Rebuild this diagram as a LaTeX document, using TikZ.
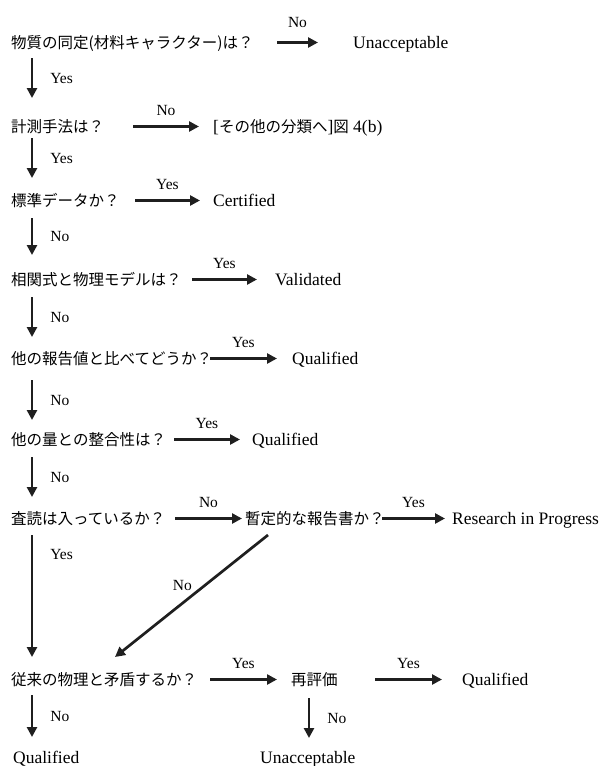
\documentclass[tikz,border=0pt]{standalone}
\usepackage{fontspec}
\setmainfont{Liberation Serif}
\newfontfamily\jp{Noto Sans CJK JP}
\usetikzlibrary{arrows.meta}
\tikzset{
  lbl/.style={inner sep=0pt, anchor=base west, text height=12pt, text depth=3pt, font=\fontsize{17.5pt}{21pt}\selectfont},
  jq/.style={lbl, font=\jp\fontsize{15.5pt}{18pt}\selectfont},
  yn/.style={inner sep=0pt, font=\fontsize{15.5pt}{19pt}\selectfont},
  arr/.style={line width=2.7pt, draw=black!88, -{Triangle[length=10pt,width=10pt]}},
  hl/.style={yn, midway, above=10pt},
  vl/.style={yn, midway, right=17pt},
}
\begin{document}
\begin{tikzpicture}[x=1pt,y=-1pt]
\useasboundingbox (0,0) rectangle (605,766);
% nodes
\node[jq] (q1) at (11,48) {物質の同定(材料キャラクター)は？};
\node[lbl] (u1) at (353,48) {Unacceptable};
\node[jq] (q2) at (11,132) {計測手法は？};
\node[lbl] (o2) at (213,132) {[{\jp\fontsize{15.5pt}{18pt}\selectfont その他の分類へ}]{\jp\fontsize{15.5pt}{18pt}\selectfont 図} 4(b)};
\node[jq] (q3) at (11,206) {標準データか？};
\node[lbl] (c3) at (213,206) {Certified};
\node[jq] (q4) at (11,285) {相関式と物理モデルは？};
\node[lbl] (v4) at (275,285) {Validated};
\node[jq] (q5) at (11,364) {他の報告値と比べてどうか？};
\node[lbl] (r5) at (292,364) {Qualified};
\node[jq] (q6) at (11,445) {他の量との整合性は？};
\node[lbl] (r6) at (252,445) {Qualified};
\node[jq] (q7) at (11,524) {査読は入っているか？};
\node[jq] (p7) at (245,524) {暫定的な報告書か？};
\node[lbl] (rp) at (452,524) {Research in Progress};
\node[jq] (q8) at (11,685) {従来の物理と矛盾するか？};
\node[jq] (re) at (291,685) {再評価};
\node[lbl] (r8) at (462,685) {Qualified};
\node[lbl] (r9) at (13,763) {Qualified};
\node[lbl] (u9) at (260,763) {Unacceptable};
% horizontal arrows
\draw[arr] ([xshift=266pt,yshift=5.5pt]q1.base west) -- node[yn, midway, above=14pt] {No} ([xshift=-35pt,yshift=5.5pt]u1.base west);
\draw[arr] ([xshift=122pt,yshift=5.5pt]q2.base west) -- node[hl] {No} ([xshift=-14pt,yshift=5.5pt]o2.base west);
\draw[arr] ([xshift=124pt,yshift=5.5pt]q3.base west) -- node[hl] {Yes} ([xshift=-13pt,yshift=5.5pt]c3.base west);
\draw[arr] ([xshift=181pt,yshift=5.5pt]q4.base west) -- node[hl] {Yes} ([xshift=-18pt,yshift=5.5pt]v4.base west);
\draw[arr] ([xshift=199pt,yshift=5.5pt]q5.base west) -- node[hl] {Yes} ([xshift=-15pt,yshift=5.5pt]r5.base west);
\draw[arr] ([xshift=163pt,yshift=5.5pt]q6.base west) -- node[hl] {Yes} ([xshift=-12pt,yshift=5.5pt]r6.base west);
\draw[arr] ([xshift=164pt,yshift=5.5pt]q7.base west) -- node[hl] {No} ([xshift=-3pt,yshift=5.5pt]p7.base west);
\draw[arr] ([xshift=137pt,yshift=5.5pt]p7.base west) -- node[hl] {Yes} ([xshift=-7pt,yshift=5.5pt]rp.base west);
\draw[arr] ([xshift=199pt,yshift=5.5pt]q8.base west) -- node[hl] {Yes} ([xshift=-14pt,yshift=5.5pt]re.base west);
\draw[arr] ([xshift=84pt,yshift=5.5pt]re.base west) -- node[hl] {Yes} ([xshift=-20pt,yshift=5.5pt]r8.base west);
% vertical arrows
\draw[arr] ([xshift=21pt,yshift=-10pt]q1.base west) -- node[vl] {Yes} ([xshift=21pt,yshift=34pt]q2.base west);
\draw[arr] ([xshift=21pt,yshift=-6pt]q2.base west) -- node[vl] {Yes} ([xshift=21pt,yshift=28pt]q3.base west);
\draw[arr] ([xshift=21pt,yshift=-12pt]q3.base west) -- node[vl] {No} ([xshift=21pt,yshift=30pt]q4.base west);
\draw[arr] ([xshift=21pt,yshift=-12pt]q4.base west) -- node[vl] {No} ([xshift=21pt,yshift=27pt]q5.base west);
\draw[arr] ([xshift=21pt,yshift=-16pt]q5.base west) -- node[vl] {No} ([xshift=21pt,yshift=25pt]q6.base west);
\draw[arr] ([xshift=21pt,yshift=-12pt]q6.base west) -- node[vl] {No} ([xshift=21pt,yshift=27pt]q7.base west);
\draw[arr] ([xshift=21pt,yshift=-11pt]q7.base west) -- node[yn, pos=0.16, right=17pt] {Yes} ([xshift=21pt,yshift=28pt]q8.base west);
\draw[arr] ([xshift=21pt,yshift=-10pt]q8.base west) -- node[vl] {No} ([xshift=19pt,yshift=26pt]r9.base west);
\draw[arr] ([xshift=18pt,yshift=-13pt]re.base west) -- node[vl] {No} ([xshift=49pt,yshift=25pt]u9.base west);
% diagonal
\draw[arr] ([xshift=23pt,yshift=-11pt]p7.base west) -- node[yn, pos=0.41, anchor=east, xshift=-12pt] {No} ([xshift=104pt,yshift=28pt]q8.base west);
\end{tikzpicture}
\end{document}
